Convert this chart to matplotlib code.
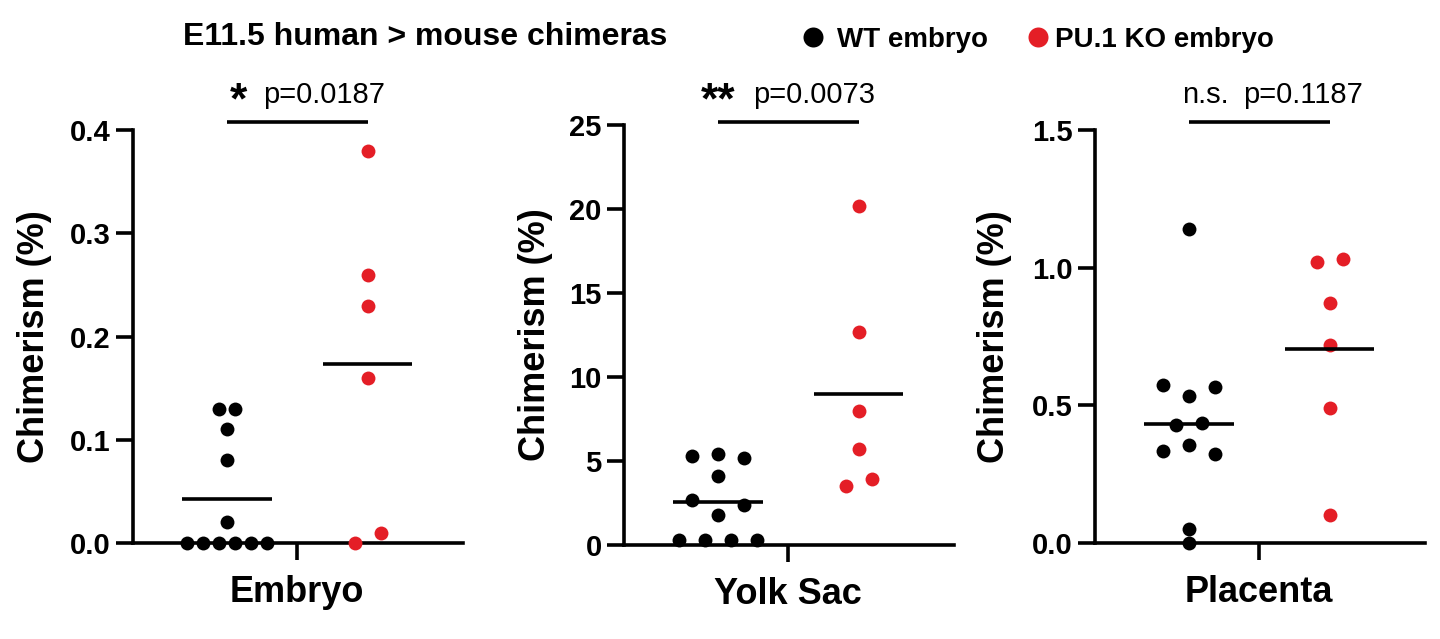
import numpy as np
import matplotlib
matplotlib.use('Agg')
import matplotlib.pyplot as plt
from matplotlib.lines import Line2D

plt.rcParams['font.family'] = ['Liberation Sans', 'DejaVu Sans']

RED = '#E41E26'

# data (chimerism, %)
tissues = ['Embryo', 'Yolk Sac', 'Placenta']
wt_embryo = [0.13, 0.13, 0.11, 0.08, 0.02, 0, 0, 0, 0, 0, 0]
ko_embryo = [0.38, 0.26, 0.23, 0.16, 0.0, 0.01]
wt_yolk = [5.3, 5.4, 5.2, 4.1, 2.7, 1.8, 2.4, 0.3, 0.3, 0.3, 0.3]
ko_yolk = [20.2, 12.7, 8.0, 5.7, 3.5, 3.9]
wt_plac = [1.14, 0.575, 0.535, 0.565, 0.43, 0.435, 0.335, 0.355, 0.325, 0.05, 0.0]
ko_plac = [1.02, 1.03, 0.87, 0.72, 0.49, 0.10]
stars = ['*', '**', 'n.s.']
pvals = ['p=0.0187', 'p=0.0073', 'p=0.1187']
ymaxes = [0.4, 25, 1.5]
yticks = [[0, 0.1, 0.2, 0.3, 0.4], [0, 5, 10, 15, 20, 25], [0.0, 0.5, 1.0, 1.5]]
yfmt = ['{:.1f}', '{:.0f}', '{:.1f}']

W, H = 1440, 639
fig = plt.figure(figsize=(W / 100, H / 100), dpi=100)

XL = (-1.17, 1.18)
AW = 330


def px2x(px, left):
    return XL[0] + (px - left) / AW * (XL[1] - XL[0])


def swarm(vals, ymax, h_px, w_px, s0=26, wmax=80, thr=12):
    # group values that sit closer than one dot, spread each group in a row
    yscale = h_px / ymax
    order = sorted(range(len(vals)), key=lambda i: vals[i])
    groups = []
    for i in order:
        if groups and (vals[i] - vals[groups[-1][-1]]) * yscale < thr:
            groups[-1].append(i)
        else:
            groups.append([i])
    nmax = max(len(g) for g in groups)
    s = s0 if nmax < 2 else min(s0, wmax / (nmax - 1))
    s = s * (XL[1] - XL[0]) / w_px
    offs = np.zeros(len(vals))
    for g in groups:
        g = sorted(g)
        n = len(g)
        for k, i in enumerate(g):
            offs[i] = (k - (n - 1) / 2) * s
    return offs


lefts = [133, 624, 1095]
tops = [130, 125, 130]
bottoms = [543, 545, 543]
ylab_x = [-0.245, -0.216, -0.25]
p_left = [263, 753, 1243]
star_c = [238.5, 718.5, 1182]
groups = [(wt_embryo, ko_embryo), (wt_yolk, ko_yolk), (wt_plac, ko_plac)]

for k in range(3):
    ah = bottoms[k] - tops[k]
    ax = fig.add_axes([lefts[k] / W, (H - bottoms[k]) / H, AW / W, ah / H])
    wt, ko = groups[k]
    for vals, xc, col in [(wt, -0.5, 'black'), (ko, 0.5, RED)]:
        offs = swarm(vals, ymaxes[k], ah, AW)
        ax.plot(xc + offs, vals, 'o', color=col, ms=10, mec='none', clip_on=False, zorder=3)
        m = np.mean(vals)
        ax.plot([xc - 0.32, xc + 0.32], [m, m], color='black', lw=2.6, solid_capstyle='butt', zorder=4)

    ax.set_xlim(*XL)
    ax.set_ylim(0, ymaxes[k])
    ax.set_yticks(yticks[k])
    ax.set_yticklabels([yfmt[k].format(v) for v in yticks[k]], fontsize=21, fontweight='bold')
    ax.set_xticks([0])
    ax.set_xticklabels([tissues[k]], fontsize=26, fontweight='bold')
    ax.spines['top'].set_visible(False)
    ax.spines['right'].set_visible(False)
    for sp in ['left', 'bottom']:
        ax.spines[sp].set_linewidth(2.6)
    ax.tick_params(axis='y', length=12, width=2.6, pad=4)
    ax.tick_params(axis='x', length=12, width=2.6, pad=11)
    ax.set_ylabel('Chimerism (%)', fontsize=26, fontweight='bold')
    ax.yaxis.set_label_coords(ylab_x[k], 0.5)

    # significance bar and text
    tr = ax.get_xaxis_transform()
    ybar = (bottoms[k] - 122) / ah
    ax.plot([-0.5, 0.5], [ybar, ybar], color='black', lw=2.6, transform=tr,
            clip_on=False, solid_capstyle='butt')
    yp = (bottoms[k] - 103) / ah
    ax.text(px2x(p_left[k], lefts[k]), yp, pvals[k], transform=tr,
            ha='left', va='baseline', fontsize=21)
    if stars[k] == 'n.s.':
        ax.text(px2x(star_c[k], lefts[k]), yp, stars[k], transform=tr,
                ha='left', va='baseline', fontsize=21)
    else:
        ax.text(px2x(star_c[k], lefts[k]), (bottoms[k] - 113) / ah, stars[k],
                transform=tr, ha='center', va='baseline', fontsize=32,
                fontweight='bold')

fig.text(183 / W, 1 - 45 / H, 'E11.5 human > mouse chimeras', fontsize=23,
         fontweight='bold', va='baseline', ha='left')

legend_items = [('WT embryo', 'black', 813, 837), ('PU.1 KO embryo', RED, 1038, 1055)]
for label, col, xd, xt in legend_items:
    fig.add_artist(Line2D([xd / W], [1 - 37 / H], marker='o', color=col, ms=14.4,
                          mec='none', transform=fig.transFigure))
    fig.text(xt / W, 1 - 47 / H, label, fontsize=20, fontweight='bold',
             va='baseline', ha='left')

fig.savefig('out.png', dpi=100)
